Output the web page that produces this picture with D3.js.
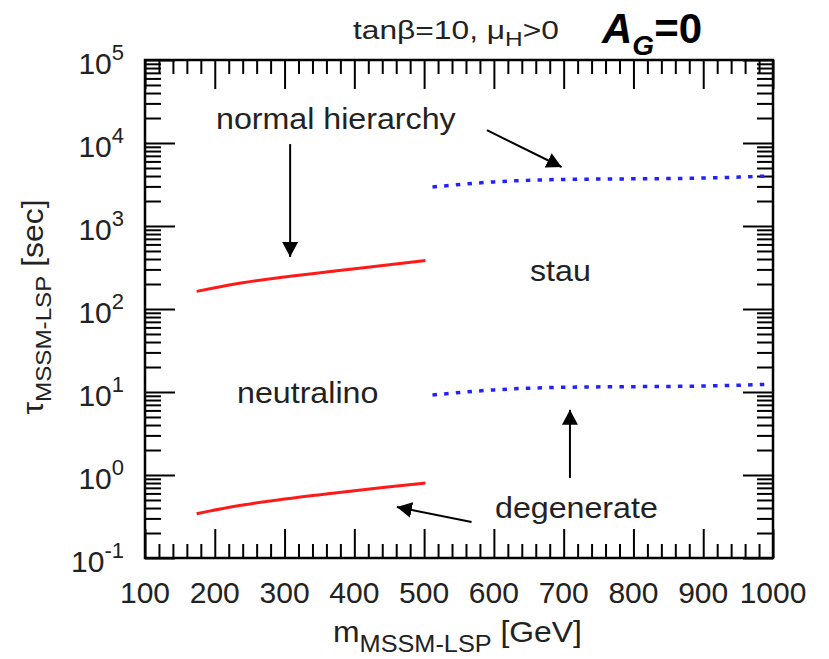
<!DOCTYPE html>
<html>
<head>
<meta charset="utf-8">
<script src="https://cdn.jsdelivr.net/npm/d3@7"></script>
<style>
  body { margin: 0; background: #fff; }
  svg { display: block; font-family: 'Liberation Sans', Arial, sans-serif; }
</style>
</head>
<body>
<div class="chart"></div>
<script>
const width = 829
const height = 659
const plotLeft = 145
const plotRight = 773
const plotTop = 60
const plotBottom = 558

// Axis ticks
const xTickLabels = [100, 200, 300, 400, 500, 600, 700, 800, 900, 1000]
const yExponents = [-1, 0, 1, 2, 3, 4, 5]

// Curves (mass in GeV, lifetime in sec)
const neutralinoMass = [174, 229, 300, 372, 444, 502]
const neutralinoNormalTau = [163, 200, 243, 287, 336, 384]
const neutralinoDegenTau = [0.342, 0.42, 0.514, 0.607, 0.711, 0.8]
const stauMass = [512, 600, 700, 800, 900, 995]
const stauNormalTau = [2950, 3400, 3640, 3700, 3780, 4000]
const stauDegenTau = [9.2, 10.6, 11.4, 11.6, 11.8, 12.4]

// Arrows, from -> to, in data units
const arrowFrom = [[308, 9700], [590, 14300], [709, 0.92], [568, 0.272]]
const arrowTo = [[308, 424], [697, 5140], [709, 6.1], [461, 0.411]]

const svg = d3
  .select('.chart')
  .append('svg')
  .attr('width', width)
  .attr('height', height)

const xScale = d3.scaleLinear().domain([100, 1000]).range([plotLeft, plotRight])
const yScale = d3.scaleLog().domain([0.1, 1e5]).range([plotBottom, plotTop])

const xMinor = d3.range(120, 1000, 20).filter(d => d % 100 !== 0)
const yMajor = yExponents.map(e => Math.pow(10, e))
const yMinor = []
yExponents.slice(0, -1).forEach(e => {
  for (let m = 2; m <= 9; m++) yMinor.push(m * Math.pow(10, e))
})

// helper to draw an axis with only ticks
function ticks(axis, transform) {
  const g = svg.append('g').attr('transform', transform).call(axis)
  g.select('.domain').remove()
  g.selectAll('.tick line').attr('stroke', '#000').attr('stroke-width', 2)
  g.selectAll('.tick text').remove()
  return g
}

ticks(d3.axisBottom(xScale).tickValues(xTickLabels).tickSize(-29), `translate(0,${plotBottom})`)
ticks(d3.axisBottom(xScale).tickValues(xMinor).tickSize(-14), `translate(0,${plotBottom})`)
ticks(d3.axisTop(xScale).tickValues(xTickLabels).tickSize(-29), `translate(0,${plotTop})`)
ticks(d3.axisTop(xScale).tickValues(xMinor).tickSize(-14), `translate(0,${plotTop})`)
ticks(d3.axisLeft(yScale).tickValues(yMajor).tickSize(-30), `translate(${plotLeft},0)`)
ticks(d3.axisLeft(yScale).tickValues(yMinor).tickSize(-16), `translate(${plotLeft},0)`)
ticks(d3.axisRight(yScale).tickValues(yMajor).tickSize(-30), `translate(${plotRight},0)`)
ticks(d3.axisRight(yScale).tickValues(yMinor).tickSize(-16), `translate(${plotRight},0)`)

// frame
svg
  .append('rect')
  .attr('x', plotLeft)
  .attr('y', plotTop)
  .attr('width', plotRight - plotLeft)
  .attr('height', plotBottom - plotTop)
  .attr('fill', 'none')
  .attr('stroke', '#000')
  .attr('stroke-width', 2.5)

// tick labels
svg
  .selectAll('.xlabel')
  .data(xTickLabels)
  .enter()
  .append('text')
  .attr('class', 'xlabel')
  .attr('x', d => xScale(d))
  .attr('y', plotBottom + 45)
  .attr('text-anchor', 'middle')
  .attr('font-size', 30)
  .attr('fill', '#222')
  .text(d => d)

const ylab = svg
  .selectAll('.ylabel')
  .data(yExponents)
  .enter()
  .append('text')
  .attr('class', 'ylabel')
  .attr('x', plotLeft - 21)
  .attr('y', d => yScale(Math.pow(10, d)) + 14)
  .attr('text-anchor', 'end')
  .attr('fill', '#222')
ylab.append('tspan').attr('font-size', 30).text('10')
ylab.append('tspan').attr('font-size', 22).attr('dy', -14).text(d => d)

// curves
const line = d3
  .line()
  .x(d => xScale(d[0]))
  .y(d => yScale(d[1]))
  .curve(d3.curveMonotoneX)

const curves = [
  { mass: neutralinoMass, tau: neutralinoNormalTau, color: '#ff1a1a', dash: null, sw: 3 },
  { mass: neutralinoMass, tau: neutralinoDegenTau, color: '#ff1a1a', dash: null, sw: 3 },
  { mass: stauMass, tau: stauNormalTau, color: '#2222ff', dash: '4.5,7.2', sw: 3.5 },
  { mass: stauMass, tau: stauDegenTau, color: '#2222ff', dash: '4.5,7.2', sw: 3.5 }
]
curves.forEach(c => {
  svg
    .append('path')
    .datum(c.mass.map((m, i) => [m, c.tau[i]]))
    .attr('d', line)
    .attr('fill', 'none')
    .attr('stroke', c.color)
    .attr('stroke-width', c.sw)
    .attr('stroke-dasharray', c.dash)
})

// arrows
svg
  .append('defs')
  .append('marker')
  .attr('id', 'head')
  .attr('markerUnits', 'userSpaceOnUse')
  .attr('markerWidth', 16)
  .attr('markerHeight', 16)
  .attr('refX', 15)
  .attr('refY', 8)
  .attr('orient', 'auto')
  .append('path')
  .attr('d', 'M0,0 L15,8 L0,16 Z')
  .attr('fill', '#000')

arrowFrom.forEach((f, i) => {
  svg
    .append('line')
    .attr('x1', xScale(f[0]))
    .attr('y1', yScale(f[1]))
    .attr('x2', xScale(arrowTo[i][0]))
    .attr('y2', yScale(arrowTo[i][1]))
    .attr('stroke', '#000')
    .attr('stroke-width', 2)
    .attr('marker-end', 'url(#head)')
})

// annotations
function label(x, y, str, size, sx) {
  svg
    .append('text')
    .attr('transform', `translate(${x},${y}) scale(${sx},1)`)
    .attr('font-size', size)
    .attr('fill', '#222')
    .text(str)
}
label(216, 129, 'normal hierarchy', 29, 1.11)
label(530, 281, 'stau', 29, 1.11)
label(237, 403, 'neutralino', 29, 1.11)
label(495, 518, 'degenerate', 29, 1.11)

// title
const title = svg
  .append('text')
  .attr('transform', 'translate(353,39) scale(1.22,1)')
  .attr('font-size', 26)
  .attr('fill', '#222')
title.append('tspan').text('tanβ=10, μ')
title.append('tspan').attr('font-size', 20).attr('dy', 7).text('H')
title.append('tspan').attr('dy', -7).text('>0')

const ag = svg
  .append('text')
  .attr('x', 602)
  .attr('y', 43)
  .attr('font-size', 42)
  .attr('font-weight', 'bold')
  .attr('fill', '#000')
ag.append('tspan').attr('font-style', 'italic').text('A')
ag.append('tspan').attr('font-size', 28).attr('font-style', 'italic').attr('dy', 12).text('G')
ag.append('tspan').attr('dy', -12).text('=0')

// axis titles
const xt = svg
  .append('text')
  .attr('transform', 'translate(333,642) scale(1.1,1)')
  .attr('font-size', 29)
  .attr('fill', '#222')
xt.append('tspan').text('m')
xt.append('tspan').attr('font-size', 23).attr('dy', 10).text('MSSM-LSP')
xt.append('tspan').attr('dy', -10).text(' [GeV]')

const yt = svg
  .append('text')
  .attr('transform', 'translate(43,307) rotate(-90) scale(1.1,1)')
  .attr('text-anchor', 'middle')
  .attr('font-size', 29)
  .attr('fill', '#222')
yt.append('tspan').text('τ')
yt.append('tspan').attr('font-size', 22).attr('dy', 8).text('MSSM-LSP')
yt.append('tspan').attr('dy', -8).text(' [sec]')
</script>
</body>
</html>
